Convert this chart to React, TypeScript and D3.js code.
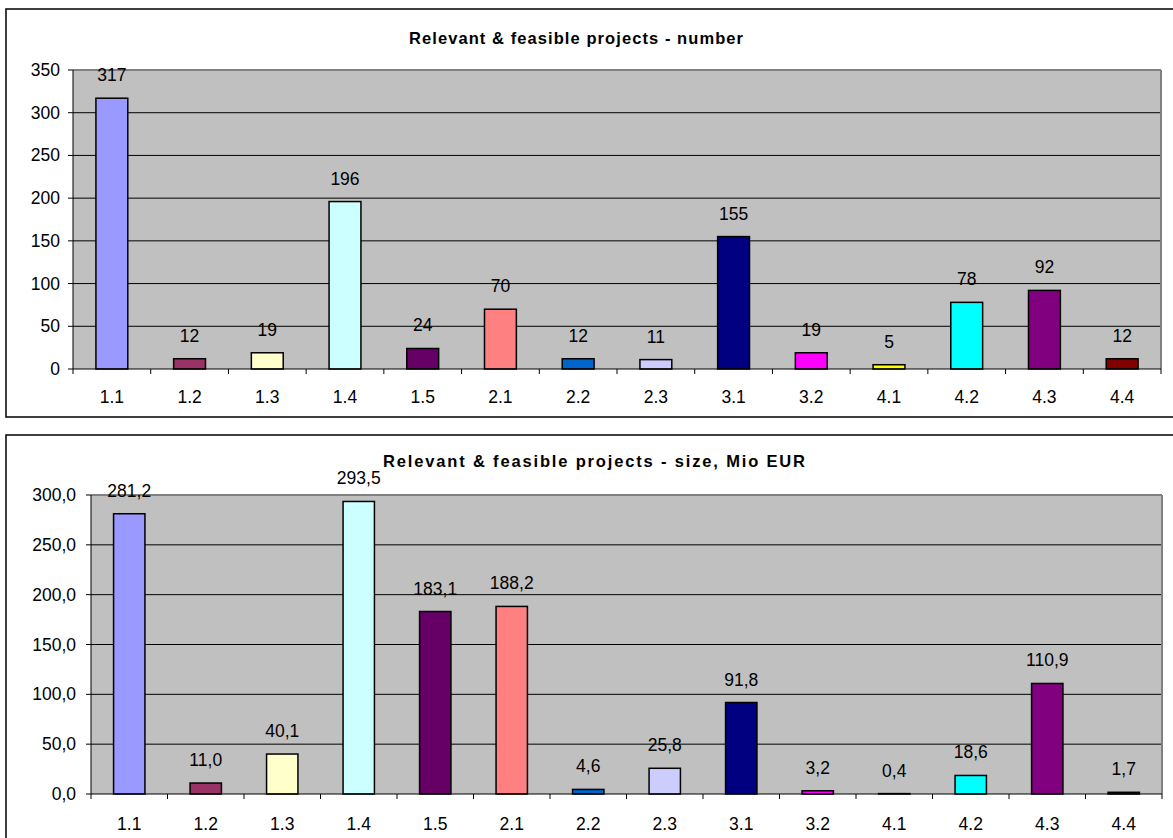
import React from "react";
import * as d3 from "d3";

const categories = ["1.1", "1.2", "1.3", "1.4", "1.5", "2.1", "2.2", "2.3", "3.1", "3.2", "4.1", "4.2", "4.3", "4.4"];
const barColors = ["#9999FF", "#993366", "#FFFFCC", "#CCFFFF", "#660066", "#FF8080", "#0066CC", "#CCCCFF", "#000080", "#FF00FF", "#FFFF00", "#00FFFF", "#800080", "#800000"];
const projectCounts = [317, 12, 19, 196, 24, 70, 12, 11, 155, 19, 5, 78, 92, 12];
const projectSizes = [281.2, 11.0, 40.1, 293.5, 183.1, 188.2, 4.6, 25.8, 91.8, 3.2, 0.4, 18.6, 110.9, 1.7];
const countTicks = [0, 50, 100, 150, 200, 250, 300, 350];
const sizeTicks = [0, 50, 100, 150, 200, 250, 300];

const FONT = "'Liberation Sans', Arial, sans-serif";
const FS = 17.5;

type PanelProps = {
  title: string;
  values: number[];
  ticks: number[];
  yMax: number;
  fmt: (v: number) => string;
  frameY: number;
  frameH: number;
  left: number;
  right: number;
  top: number;
  bottom: number;
  titleX: number;
  titleY: number;
  titleLen: number;
  xLabelY: number;
  yLabelGap: number;
};

function Panel(p: PanelProps) {
  const x = d3.scaleBand<string>().domain(categories).range([p.left, p.right]).padding(0);
  const y = d3.scaleLinear().domain([0, p.yMax]).range([p.bottom, p.top]);
  const bw = x.bandwidth() * 0.41;
  return (
    <g>
      <rect x={6} y={p.frameY} width={1180} height={p.frameH} fill="#fff" stroke="#000" strokeWidth={1.5} />
      <text x={p.titleX} y={p.titleY} textAnchor="middle" fontFamily={FONT} fontWeight="bold" fontSize={16.5}
        textLength={p.titleLen} lengthAdjust="spacing">{p.title}</text>
      <rect x={p.left} y={p.top} width={p.right - p.left} height={p.bottom - p.top} fill="#C0C0C0" />
      {p.ticks.filter((t) => t > 0 && t < p.yMax).map((t) => (
        <line key={"g" + t} x1={p.left} x2={p.right} y1={y(t)} y2={y(t)} stroke="#000" strokeWidth={1} />
      ))}
      <line x1={p.left} x2={p.right} y1={p.top} y2={p.top} stroke="#808080" strokeWidth={2} />
      <line x1={p.right} x2={p.right} y1={p.top} y2={p.bottom} stroke="#808080" strokeWidth={2} />
      {p.values.map((v, i) => {
        const c = categories[i];
        const cx = (x(c) as number) + x.bandwidth() / 2;
        return (
          <g key={c}>
            <rect x={cx - bw / 2} y={y(v)} width={bw} height={p.bottom - y(v)} fill={barColors[i]} stroke="#000" strokeWidth={1.5} />
            <text x={cx} y={y(v) - 17} textAnchor="middle" fontFamily={FONT} fontSize={FS}>{p.fmt(v)}</text>
          </g>
        );
      })}
      <line x1={p.left} x2={p.left} y1={p.top} y2={p.bottom} stroke="#000" strokeWidth={1} />
      <line x1={p.left} x2={p.right} y1={p.bottom} y2={p.bottom} stroke="#000" strokeWidth={1} />
      {p.ticks.map((t) => (
        <g key={"t" + t}>
          <line x1={p.left - 5} x2={p.left} y1={y(t)} y2={y(t)} stroke="#000" strokeWidth={1} />
          <text x={p.left - p.yLabelGap} y={y(t) + 6} textAnchor="end" fontFamily={FONT} fontSize={FS}>{p.fmt(t)}</text>
        </g>
      ))}
      {categories.map((c) => (
        <line key={"xt" + c} x1={x(c) as number} x2={x(c) as number} y1={p.bottom} y2={p.bottom + 5} stroke="#000" strokeWidth={1} />
      ))}
      <line x1={p.right} x2={p.right} y1={p.bottom} y2={p.bottom + 5} stroke="#000" strokeWidth={1} />
      {categories.map((c) => (
        <text key={"xl" + c} x={(x(c) as number) + x.bandwidth() / 2} y={p.xLabelY} textAnchor="middle" fontFamily={FONT} fontSize={FS}>{c}</text>
      ))}
    </g>
  );
}

export default function App() {
  const intFmt = (v: number) => d3.format("d")(v);
  const decFmt = (v: number) => d3.format(".1f")(v).replace(".", ",");
  return (
    <svg width={1173} height={838} style={{ position: "absolute", left: 0, top: 0, background: "#fff" }}>
      <rect x={0} y={0} width={1173} height={838} fill="#fff" />
      <Panel title="Relevant & feasible projects - number" values={projectCounts} ticks={countTicks} yMax={350}
        fmt={intFmt} frameY={9} frameH={408} left={73} right={1161} top={70} bottom={369}
        titleX={576} titleY={44} titleLen={334} xLabelY={403} yLabelGap={13} />
      <Panel title="Relevant & feasible projects - size, Mio EUR" values={projectSizes} ticks={sizeTicks} yMax={300}
        fmt={decFmt} frameY={435} frameH={420} left={91} right={1162} top={495} bottom={794}
        titleX={594} titleY={467} titleLen={422} xLabelY={830} yLabelGap={15} />
    </svg>
  );
}
